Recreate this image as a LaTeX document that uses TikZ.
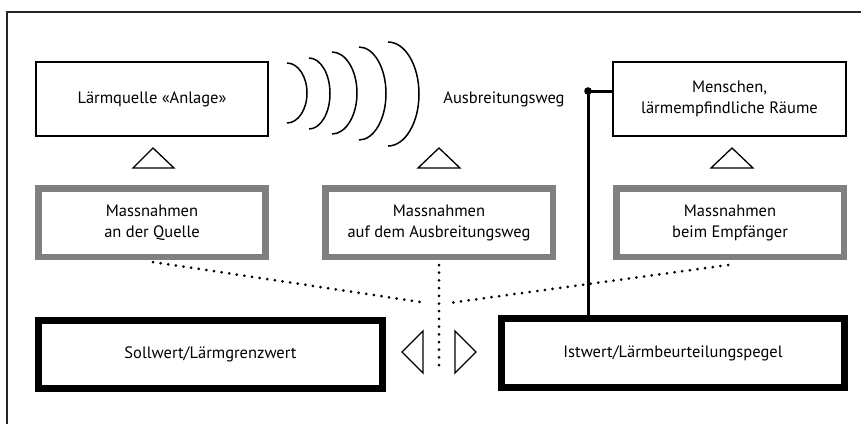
\documentclass[tikz,border=0pt]{standalone}
\usepackage{fontspec}
\setmainfont{PT Sans}
\usetikzlibrary{calc}
\begin{document}
\begin{tikzpicture}[x=1pt,y=-1pt,
  txt/.style={font=\fontsize{16.5}{21}\selectfont, align=center, inner sep=0pt},
  topbox/.style={txt, draw=black, line width=1.5pt, minimum width=232pt, minimum height=74pt},
  graybox/.style={txt, draw=black!50, line width=6.5pt, minimum width=227pt, minimum height=68.5pt},
  thickbox/.style={txt, draw=black, line width=7pt, minimum width=343pt, minimum height=68pt},
  tri/.style={draw=black, line width=1.3pt, line join=miter},
  wave/.style={draw=black, line width=1.5pt},
  dots/.style={line width=3pt, line cap=round, dash pattern=on 0pt off 7.7pt},
  link/.style={draw=black, line width=3pt}
]
\useasboundingbox (0,0) rectangle (861,424);
% open frame
\draw[line width=1.5pt, black!85] (7,424) -- (7,12) -- (861,12);

% top row
\node[topbox] (src) at (152,99) {Lärmquelle «Anlage»};
\node[txt] (weg) at (504,99) {Ausbreitungsweg};
\node[topbox, minimum width=233pt] (rec) at (729.5,99) {Menschen,\\lärmempfindliche Räume};

% waves
\draw[wave] (287,63) arc[start angle=-90, end angle=90, x radius=20, y radius=30];
\draw[wave] (309,58) arc[start angle=-90, end angle=90, x radius=21, y radius=35.5];
\draw[wave] (332,52) arc[start angle=-90, end angle=90, x radius=25, y radius=41];
\draw[wave] (359,47) arc[start angle=-90, end angle=90, x radius=27, y radius=46.5];
\draw[wave] (388,42) arc[start angle=-90, end angle=90, x radius=31, y radius=52];

% up triangles
\draw[tri] (133,168) -- (153,148) -- (174,168) -- cycle;
\draw[tri] (418,168) -- (439,148) -- (460,168) -- cycle;
\draw[tri] (711,168) -- (732,148) -- (753,168) -- cycle;

% measures
\node[graybox] (m1) at (152,222.5) {Massnahmen\\an der Quelle};
\node[graybox, minimum width=227.5pt] (m2) at (439,222.5) {Massnahmen\\auf dem Ausbreitungsweg};
\node[graybox, minimum width=227.5pt] (m3) at (730,222.5) {Massnahmen\\beim Empfänger};

% bottom
\node[thickbox, minimum width=344pt] (soll) at (210.5,354.5) {Sollwert/Lärmgrenzwert};
\node[thickbox, minimum height=69pt] (ist) at (673,353) {Istwert/Lärmbeurteilungspegel};

% side triangles
\draw[tri] (423,331) -- (402,352) -- (423,373) -- cycle;
\draw[tri] (455,331) -- (476,352) -- (455,373) -- cycle;

% dotted connectors
\coordinate (meet) at (439,303);
\coordinate (d1) at (153,262);
\coordinate (d3) at (728,265);
\coordinate (d2) at (439,265);
\coordinate (dend) at (439,372);
\draw[dots] (d1) -- ($(meet)+(-12,0)$);
\draw[dots] (d3) -- ($(meet)+(10,0)$);
\draw[dots] (d2) -- (dend);

% solid link
\coordinate (junc) at (588,91);
\draw[link] (junc) -- (junc -| rec.west);
\draw[link] (junc) -- (junc |- ist.north);
\fill (junc) circle[radius=3.8pt];
\end{tikzpicture}
\end{document}
